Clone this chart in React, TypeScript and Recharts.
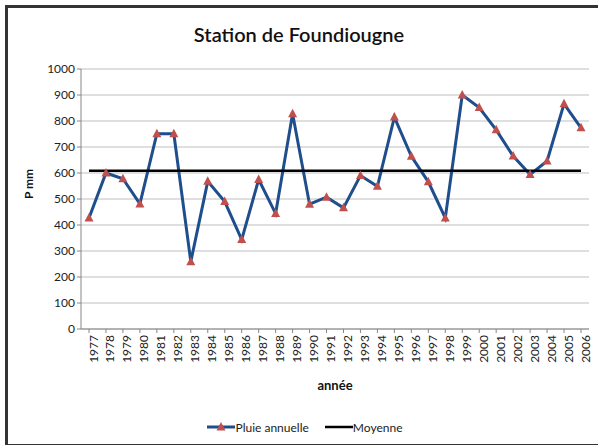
import { LineChart, Line, XAxis, YAxis, CartesianGrid, Legend } from "recharts";

const years = [
  "1977", "1978", "1979", "1980", "1981", "1982", "1983", "1984", "1985", "1986",
  "1987", "1988", "1989", "1990", "1991", "1992", "1993", "1994", "1995", "1996",
  "1997", "1998", "1999", "2000", "2001", "2002", "2003", "2004", "2005", "2006",
];
const pluieAnnuelle = [
  427, 600, 578, 481, 751, 751, 259, 568, 490, 344,
  575, 444, 828, 480, 507, 466, 590, 549, 815, 664,
  566, 427, 900, 852, 766, 665, 594, 646, 866, 774,
];
const moyenne = 609;
const yTicks = [0, 100, 200, 300, 400, 500, 600, 700, 800, 900, 1000];

const data = years.map((annee, i) => ({ annee, pluie: pluieAnnuelle[i], moyenne }));

const font = "Lato, 'Open Sans', sans-serif";
const blue = "#1f4e8c";
const red = "#c0504d";

function Triangle(props: any) {
  const { cx, cy } = props;
  if (cx == null || cy == null) return null;
  return <polygon points={`${cx},${cy - 5} ${cx - 4.5},${cy + 3.5} ${cx + 4.5},${cy + 3.5}`} fill={red} />;
}

function LegendContent() {
  return (
    <div style={{ display: "flex", justifyContent: "center", alignItems: "center", fontFamily: font, fontSize: 12, color: "#222", height: 20 }}>
      <svg width={28} height={12}>
        <line x1={0} y1={6} x2={28} y2={6} stroke={blue} strokeWidth={3} />
        <polygon points="14,1 9.5,9.5 18.5,9.5" fill={red} />
      </svg>
      <span style={{ marginRight: 16 }}>Pluie annuelle</span>
      <svg width={28} height={12}>
        <line x1={0} y1={6} x2={28} y2={6} stroke="#000" strokeWidth={2.5} />
      </svg>
      <span>Moyenne</span>
    </div>
  );
}

export default function App() {
  return (
    <div style={{ position: "absolute", left: 0, top: 0, width: 598, height: 445, background: "#fff", overflow: "hidden" }}>
      <div style={{ position: "absolute", left: 5, top: 5, width: 600, height: 436, borderLeft: "3px solid #333", borderTop: "3px solid #333", borderBottom: "3px solid #333" }} />
      <div style={{ position: "absolute", left: 0, width: 598, top: 22, textAlign: "center", fontFamily: font, fontSize: 20, fontWeight: 600, color: "#111" }}>
        Station de Foundiougne
      </div>
      <LineChart width={598} height={445} data={data} margin={{ top: 69, right: 9, bottom: 8, left: 21 }}>
        <CartesianGrid stroke="#bfbfbf" vertical={false} />
        <XAxis
          dataKey="annee"
          interval={0}
          height={88}
          angle={-90}
          textAnchor="end"
          padding={{ left: 8, right: 8 }}
          tick={{ fontSize: 12, fill: "#222", fontFamily: font, verticalAnchor: "middle" } as any}
          tickSize={4}
          stroke="#868686"
          label={{ value: "année", position: "insideBottom", offset: 27, fontSize: 13, fontWeight: 700, fill: "#111", fontFamily: font }}
        />
        <YAxis
          width={60}
          domain={[0, 1000]}
          ticks={yTicks}
          tickSize={4}
          tick={{ fontSize: 12, fill: "#222", fontFamily: font }}
          stroke="#868686"
          label={{ value: "P mm", angle: -90, position: "insideLeft", offset: 8, fontSize: 12, fontWeight: 700, fill: "#111", fontFamily: font }}
        />
        <Legend verticalAlign="bottom" wrapperStyle={{ height: 20 }} content={<LegendContent />} />
        <Line dataKey="pluie" name="Pluie annuelle" stroke={blue} strokeWidth={3} dot={<Triangle />} activeDot={false} isAnimationActive={false} />
        <Line dataKey="moyenne" name="Moyenne" stroke="#000" strokeWidth={2.5} dot={false} activeDot={false} isAnimationActive={false} />
      </LineChart>
    </div>
  );
}
